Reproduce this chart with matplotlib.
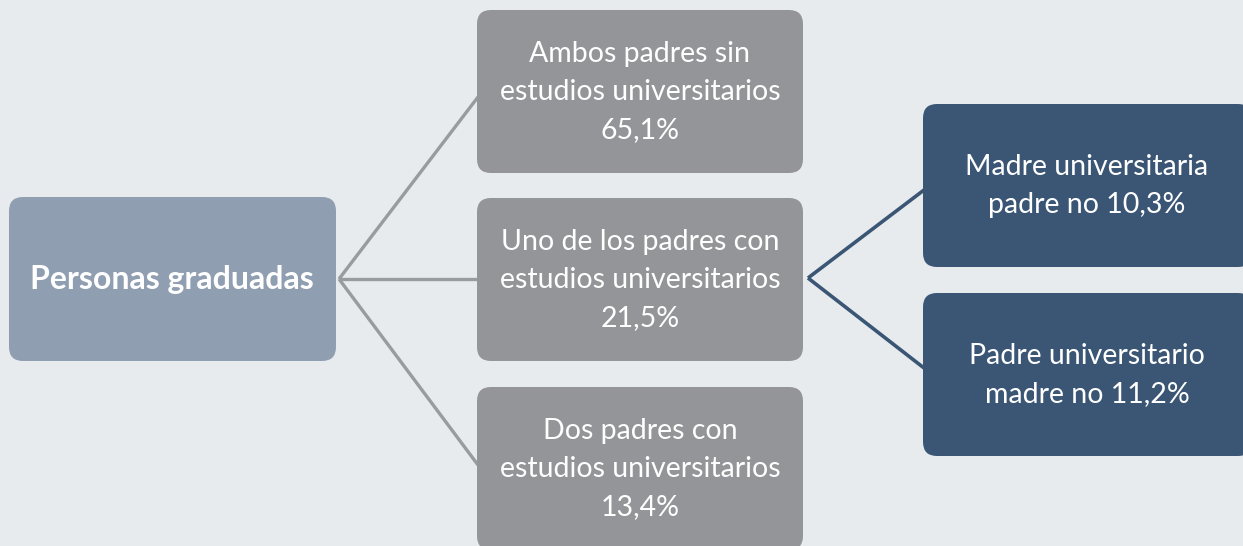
import matplotlib
matplotlib.use("Agg")
from matplotlib import pyplot as plt
from matplotlib.patches import FancyBboxPatch

# Tree content
root_label = "Personas graduadas"
level1_labels = ["Ambos padres sin\nestudios universitarios",
                 "Uno de los padres con\nestudios universitarios",
                 "Dos padres con\nestudios universitarios"]
level1_values = [65.1, 21.5, 13.4]
level2_labels = ["Madre universitaria\npadre no", "Padre universitario\nmadre no"]
level2_values = [10.3, 11.2]

def pct(v):
    return f"{v:.1f}".replace(".", ",") + "%"

BG = "#e7ebee"
ROOT_C = "#8f9eb1"
GREY_C = "#939598"
BLUE_C = "#3a5674"
LINE_GREY = "#9a9b9d"

plt.rcParams['font.family'] = ['Lato', 'DejaVu Sans']

fig = plt.figure(figsize=(12.43, 5.46), dpi=100)
fig.patch.set_facecolor(BG)
ax = fig.add_axes([0, 0, 1, 1])
ax.set_xlim(0, 1243)
ax.set_ylim(546, 0)
ax.axis("off")

def box(x0, y0, x1, y1, color):
    r = 14
    p = FancyBboxPatch((x0 + r, y0 + r), (x1 - x0) - 2 * r, (y1 - y0) - 2 * r,
                       boxstyle=f"round,pad={r}", fc=color, ec="none", zorder=2)
    ax.add_patch(p)

# connectors
apex1 = (339, 279)
ends1 = [(478, 97), (478, 279), (478, 465)]
for ex, ey in ends1:
    ax.plot([apex1[0], ex], [apex1[1], ey], color=LINE_GREY, lw=2.4,
            solid_capstyle="butt", zorder=1)
apex2 = (808, 278)
ends2 = [(924, 190), (924, 368)]
for ex, ey in ends2:
    ax.plot([apex2[0], ex], [apex2[1], ey], color=BLUE_C, lw=2.6,
            solid_capstyle="butt", zorder=1)

# root
box(9, 197, 336, 361, ROOT_C)
ax.text(172, 280, root_label, ha="center", va="center", color="white",
        fontsize=23, fontweight="bold", zorder=3)

# level 1
tops1 = [10, 198, 387]
for t, lab, v in zip(tops1, level1_labels, level1_values):
    box(477, t, 803, t + 163, GREY_C)
    ax.text(640, t + 82, lab + "\n" + pct(v), ha="center", va="center",
            color="white", fontsize=20.5, fontweight="normal", linespacing=1.58,
            zorder=3)

# level 2
tops2 = [104, 293]
for t, lab, v in zip(tops2, level2_labels, level2_values):
    box(923, t, 1252, t + 163, BLUE_C)
    ax.text(1087, t + 82, lab + " " + pct(v), ha="center", va="center",
            color="white", fontsize=20.5, fontweight="normal", linespacing=1.58,
            zorder=3)

fig.savefig("out.png", dpi=100, facecolor=BG)
